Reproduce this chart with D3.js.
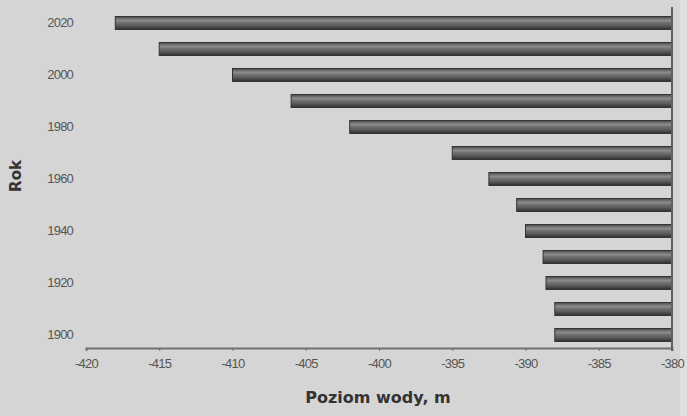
<!DOCTYPE html>
<html>
<head>
<meta charset="utf-8">
<script src="https://cdn.jsdelivr.net/npm/d3@7"></script>
<style>
  body { margin: 0; background: #d5d5d5; }
  #chart { width: 687px; height: 416px; }
</style>
</head>
<body>
<div id="chart"></div>
<script>
// lata i poziom wody (m)
const years = [1900, 1910, 1920, 1930, 1940, 1950, 1960, 1970, 1980, 1990, 2000, 2010, 2020];
const levels = [-388, -388, -388.6, -388.8, -390, -390.6, -392.5, -395, -402, -406, -410, -415, -418];
const xTicks = [-420, -415, -410, -405, -400, -395, -390, -385, -380];
const yLabels = [1900, 1920, 1940, 1960, 1980, 2000, 2020];

const width = 687, height = 416;
const margin = { top: 10, right: 15, bottom: 68, left: 86 };
const w = width - margin.left - margin.right;
const h = height - margin.top - margin.bottom;

const svg = d3.select("#chart")
    .append("svg")
    .attr("width", width)
    .attr("height", height);

svg.append("rect")
    .attr("width", width).attr("height", height)
    .attr("fill", "#d5d5d5");
svg.append("rect")
    .attr("x", 680).attr("width", 7).attr("height", height)
    .attr("fill", "#e0e0e0");

const g = svg.append("g")
    .attr("transform", `translate(${margin.left},${margin.top})`);

// gradient dla słupków
const grad = svg.append("defs")
    .append("linearGradient")
    .attr("id", "bar-grad")
    .attr("x1", "0%").attr("y1", "0%")
    .attr("x2", "0%").attr("y2", "100%");
[["0%", "#4a4a4a"], ["30%", "#8c8c8c"], ["50%", "#6e6e6e"], ["70%", "#5a5a5a"], ["100%", "#2e2e2e"]]
    .forEach(s => grad.append("stop").attr("offset", s[0]).attr("stop-color", s[1]));

const x = d3.scaleLinear()
    .domain([-420, -380])
    .range([0, w]);

const y = d3.scaleBand()
    .domain(years.slice().reverse())
    .range([0, h])
    .paddingInner(0.5)
    .paddingOuter(0.25);

g.selectAll(".bar")
    .data(years)
    .enter()
    .append("rect")
    .attr("class", "bar")
    .attr("x", (d, i) => x(levels[i]))
    .attr("y", d => y(d))
    .attr("width", (d, i) => x(-380) - x(levels[i]))
    .attr("height", y.bandwidth())
    .attr("fill", "url(#bar-grad)")
    .attr("stroke", "#333")
    .attr("stroke-width", 1);

// oś X
g.append("g")
    .attr("transform", `translate(0,${h})`)
    .call(d3.axisBottom(x).tickValues(xTicks).tickSize(3).tickPadding(8).tickFormat(d => String(d)))
    .call(g => g.select(".domain").attr("stroke", "#707070").attr("stroke-width", 2))
    .call(g => g.selectAll(".tick line").attr("stroke", "#707070"))
    .call(g => g.selectAll(".tick text")
        .attr("fill", "#555")
        .attr("font-family", "Arial, 'Liberation Sans', sans-serif")
        .attr("font-size", "13px")
        .style("letter-spacing", "-0.8px"));

// oś Y (prawa krawędź)
g.append("line")
    .attr("x1", x(-380)).attr("x2", x(-380))
    .attr("y1", -3).attr("y2", h + 3)
    .attr("stroke", "#606060")
    .attr("stroke-width", 2);

// etykiety lat
g.append("g")
    .call(d3.axisLeft(y).tickValues(yLabels).tickSize(0).tickPadding(13))
    .call(g => g.select(".domain").remove())
    .call(g => g.selectAll(".tick text")
        .attr("fill", "#555")
        .attr("font-family", "Arial, 'Liberation Sans', sans-serif")
        .attr("font-size", "13px")
        .style("letter-spacing", "-0.8px"));

svg.append("text")
    .attr("x", 378)
    .attr("y", 403)
    .attr("text-anchor", "middle")
    .attr("font-family", "Verdana, 'DejaVu Sans', sans-serif")
    .attr("font-weight", "bold")
    .attr("font-size", "16px")
    .attr("fill", "#333")
    .text("Poziom wody, m");

svg.append("text")
    .attr("transform", "translate(21,176) rotate(-90)")
    .attr("text-anchor", "middle")
    .attr("font-family", "Verdana, 'DejaVu Sans', sans-serif")
    .attr("font-weight", "bold")
    .attr("font-size", "15px")
    .attr("fill", "#333")
    .text("Rok");
</script>
</body>
</html>
